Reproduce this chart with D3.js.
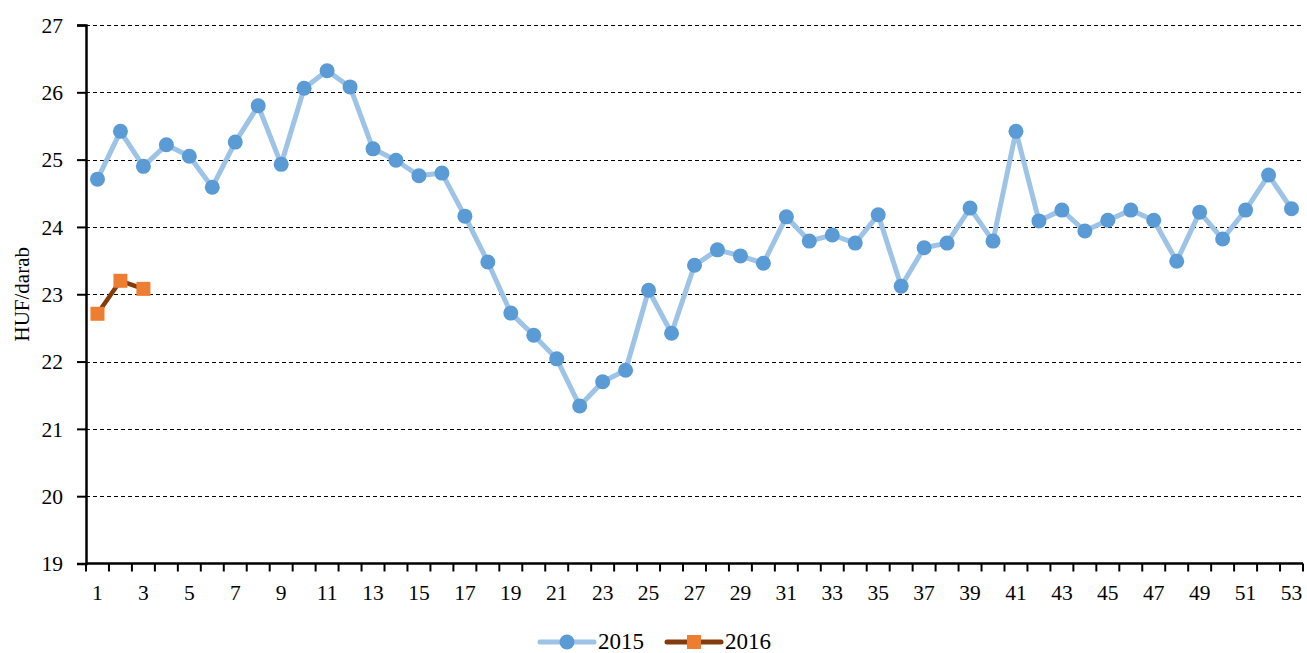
<!DOCTYPE html>
<html>
<head>
<meta charset="utf-8">
<script src="https://cdn.jsdelivr.net/npm/d3@7"></script>
<style>
  body { margin: 0; background: #fff; }
  text { font-family: "Liberation Serif", "Times New Roman", serif; fill: #000; }
</style>
</head>
<body>
<div id="chart"></div>
<script>
// weeks 1..53
const weeks = d3.range(1, 54);

const values2015 = [
  24.71, 25.42, 24.90, 25.22, 25.05, 24.59, 25.26, 25.80, 24.93, 26.06,
  26.32, 26.08, 25.16, 24.99, 24.76, 24.80, 24.16, 23.48, 22.72, 22.39,
  22.04, 21.34, 21.70, 21.87, 23.06, 22.42, 23.43, 23.66, 23.57, 23.46,
  24.15, 23.79, 23.88, 23.76, 24.18, 23.12, 23.69, 23.76, 24.28, 23.79,
  25.42, 24.09, 24.25, 23.94, 24.10, 24.25, 24.10, 23.49, 24.22, 23.82,
  24.25, 24.77, 24.27
];
const values2016 = [22.71, 23.20, 23.08];

const yTicks = [19, 20, 21, 22, 23, 24, 25, 26, 27];
const seriesNames = ["2015", "2016"];

const width = 1307, height = 653;
const margin = { left: 86, right: 4, top: 25, bottom: 89.5 };

const svg = d3.select("#chart").append("svg")
  .attr("width", width)
  .attr("height", height);

const x = d3.scaleBand()
  .domain(weeks)
  .range([margin.left, width - margin.right]);

const y = d3.scaleLinear()
  .domain([19, 27])
  .range([height - margin.bottom, margin.top]);

const cx = d => x(d) + x.bandwidth() / 2;

// gridlines
svg.append("g")
  .selectAll("line")
  .data(yTicks.filter(t => t > 19))
  .join("line")
  .attr("x1", margin.left)
  .attr("x2", width - margin.right)
  .attr("y1", d => Math.round(y(d)) + 0.5)
  .attr("y2", d => Math.round(y(d)) + 0.5)
  .attr("stroke", "#000")
  .attr("stroke-width", 1)
  .attr("stroke-dasharray", "4,3");

// y axis
const yAxis = svg.append("g")
  .attr("transform", `translate(${margin.left},0)`)
  .call(d3.axisLeft(y).tickValues(yTicks).tickSize(9).tickPadding(14).tickFormat(d3.format("d")));
yAxis.select(".domain").attr("stroke", "#000").attr("stroke-width", 2.5);
yAxis.selectAll(".tick line").attr("stroke", "#000").attr("stroke-width", 2);
yAxis.selectAll(".tick text").style("font-size", "21.5px").attr("dy", "0.34em");

// x axis, ticks between categories like Excel
const xAxisG = svg.append("g")
  .attr("transform", `translate(0,${y(19)})`);
xAxisG.append("line")
  .attr("x1", margin.left)
  .attr("x2", width - margin.right)
  .attr("stroke", "#000")
  .attr("stroke-width", 2.5);
const edges = weeks.map(w => x(w)).concat([width - margin.right]);
xAxisG.selectAll("line.tk")
  .data(edges)
  .join("line")
  .attr("class", "tk")
  .attr("x1", d => d).attr("x2", d => d)
  .attr("y1", 0).attr("y2", 8)
  .attr("stroke", "#000")
  .attr("stroke-width", 2);
xAxisG.selectAll("text")
  .data(weeks.filter(w => w % 2 === 1))
  .join("text")
  .attr("x", d => cx(d))
  .attr("y", 36)
  .attr("text-anchor", "middle")
  .style("font-size", "21.5px")
  .text(d => d);

// y axis title
svg.append("text")
  .attr("transform", `translate(29,${(margin.top + y(19)) / 2}) rotate(-90)`)
  .attr("text-anchor", "middle")
  .style("font-size", "21px")
  .text("HUF/darab");

const line = d3.line()
  .x((d, i) => cx(weeks[i]))
  .y(d => y(d));

// 2015 series
svg.append("path")
  .datum(values2015)
  .attr("d", line)
  .attr("fill", "none")
  .attr("stroke", "#9DC3E6")
  .attr("stroke-width", 5)
  .attr("stroke-linejoin", "round");
svg.append("g")
  .selectAll("circle")
  .data(values2015)
  .join("circle")
  .attr("cx", (d, i) => cx(weeks[i]))
  .attr("cy", d => y(d))
  .attr("r", 7.5)
  .attr("fill", "#5B9BD5");

// 2016 series
svg.append("path")
  .datum(values2016)
  .attr("d", line)
  .attr("fill", "none")
  .attr("stroke", "#843C0C")
  .attr("stroke-width", 4.5)
  .attr("stroke-linejoin", "round");
svg.append("g")
  .selectAll("rect")
  .data(values2016)
  .join("rect")
  .attr("x", (d, i) => cx(weeks[i]) - 7)
  .attr("y", d => y(d) - 7)
  .attr("width", 14)
  .attr("height", 14)
  .attr("fill", "#ED7D31");

// legend
const legend = svg.append("g").attr("transform", "translate(0,642)");
const leg = [
  { name: seriesNames[0], x0: 540, line: "#9DC3E6", mark: "#5B9BD5", shape: "circle" },
  { name: seriesNames[1], x0: 667, line: "#843C0C", mark: "#ED7D31", shape: "square" }
];
leg.forEach(l => {
  legend.append("line")
    .attr("x1", l.x0).attr("x2", l.x0 + 54)
    .attr("stroke", l.line)
    .attr("stroke-width", 5)
    .attr("stroke-linecap", "round");
  if (l.shape === "circle") {
    legend.append("circle").attr("cx", l.x0 + 27).attr("r", 7.5).attr("fill", l.mark);
  } else {
    legend.append("rect").attr("x", l.x0 + 20).attr("y", -7).attr("width", 14).attr("height", 14).attr("fill", l.mark);
  }
  legend.append("text")
    .attr("x", l.x0 + 58)
    .attr("y", 7)
    .style("font-size", "23px")
    .text(l.name);
});
</script>
</body>
</html>
